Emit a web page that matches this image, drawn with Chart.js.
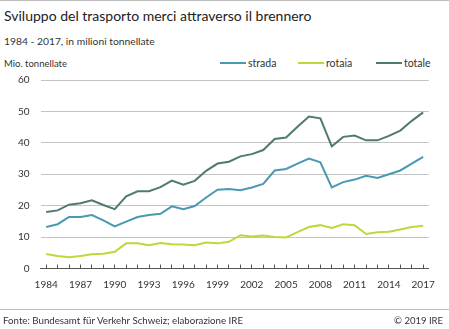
<!DOCTYPE html>
<html>
<head>
<meta charset="utf-8">
<script src="https://cdn.jsdelivr.net/npm/chart.js@4"></script>
<style>
  html, body { margin: 0; padding: 0; background: #fff; }
  body { width: 449px; height: 329px; position: relative; overflow: hidden;
         font-family: Lato, "Noto Sans", sans-serif; color: #333; }
  .rule { position: absolute; left: 0; width: 449px; height: 1px; background: #bdbdbd; }
  .txt { position: absolute; white-space: nowrap; line-height: 1; }
  #title { left: 4px; top: 9px; font-size: 14px; color: #222; }
  #sub { left: 4px; top: 36px; font-size: 10.3px; }
  #unit { left: 4px; top: 59px; font-size: 9.5px; }
  #foot { left: 3px; top: 316px; font-size: 9.7px; }
  #copy { right: 6px; top: 316px; font-size: 9.5px; }
  .leg { position: absolute; top: 58px; font-size: 10.5px; line-height: 1; white-space: nowrap; }
  .leg i { display: inline-block; width: 26px; height: 2px; vertical-align: middle; margin-right: 2px; position: relative; top: -1px; }
  #chartBox { position: absolute; left: 0; top: 0; width: 449px; height: 329px; }
</style>
</head>
<body>
<div class="rule" style="top:0"></div>
<div class="txt" id="title">Sviluppo del trasporto merci attraverso il brennero</div>
<div class="txt" id="sub">1984 - 2017, in milioni tonnellate</div>
<div class="txt" id="unit">Mio. tonnellate</div>
<div class="leg" style="left:220px"><i style="background:#4a98b2"></i>strada</div>
<div class="leg" style="left:298px"><i style="background:#c2d63a"></i>rotaia</div>
<div class="leg" style="left:376px"><i style="background:#4f7b6c"></i>totale</div>
<div id="chartBox"><canvas id="myChart"></canvas></div>
<div class="rule" style="top:309px"></div>
<div class="txt" id="foot">Fonte: Bundesamt für Verkehr Schweiz; elaborazione IRE</div>
<div class="txt" id="copy">© 2019 IRE</div>
<script>
// anni 1984-2017
const years = ['1984', '1985', '1986', '1987', '1988', '1989', '1990', '1991', '1992', '1993',
  '1994', '1995', '1996', '1997', '1998', '1999', '2000', '2001', '2002', '2003', '2004',
  '2005', '2006', '2007', '2008', '2009', '2010', '2011', '2012', '2013', '2014', '2015',
  '2016', '2017'];

// milioni di tonnellate
const strada = [13.2, 14.1, 16.4, 16.4, 17.0, 15.3, 13.4, 14.9, 16.4, 17.0, 17.4, 19.8, 18.9,
  19.9, 22.6, 25.1, 25.3, 24.9, 25.8, 26.9, 31.2, 31.7, 33.4, 35.0, 33.8, 25.8, 27.5, 28.3,
  29.5, 28.8, 30.0, 31.2, 33.4, 35.5];
const rotaia = [4.6, 4.0, 3.6, 4.0, 4.5, 4.7, 5.3, 8.0, 8.0, 7.4, 8.1, 7.7, 7.6, 7.4, 8.3, 8.0,
  8.5, 10.6, 10.2, 10.5, 10.0, 9.9, 11.6, 13.2, 13.8, 12.9, 14.1, 13.8, 11.0, 11.5, 11.7,
  12.4, 13.2, 13.6];
const totale = [18.0, 18.5, 20.3, 20.8, 21.7, 20.2, 18.9, 23.0, 24.6, 24.6, 25.9, 28.0, 26.7,
  27.9, 31.1, 33.4, 34.0, 35.7, 36.4, 37.7, 41.2, 41.7, 45.1, 48.4, 47.8, 38.9, 41.9, 42.3,
  40.8, 40.8, 42.2, 43.9, 47.0, 49.7];

// etichette asse x solo ogni 3 anni
const yearStep = 3;

function serie(label, values, color) {
  return {
    label,
    data: values,
    borderColor: color,
    backgroundColor: color,
    borderWidth: 2,
    pointRadius: 0,
    tension: 0,
  };
}

const config = {
  type: 'line',
  data: {
    labels: years,
    datasets: [
      serie('rotaia', rotaia, '#c2d63a'),
      serie('strada', strada, '#4a98b2'),
      serie('totale', totale, '#4f7b6c'),
    ],
  },
  options: {
    responsive: true,
    maintainAspectRatio: false,
    animation: false,
    layout: { padding: { top: 80, right: 16, left: 0, bottom: 0 } },
    plugins: { legend: { display: false }, tooltip: { enabled: false } },
    scales: {
      x: {
        offset: true,
        grid: {
          drawOnChartArea: false,
          tickLength: -4, // tacche verso l'alto
          color: '#555',
        },
        border: { color: '#555', width: 1 },
        ticks: {
          autoSkip: false,
          maxRotation: 0,
          padding: 14,
          color: '#333',
          font: { family: 'Lato', size: 10 },
          callback(v, i) { return i % yearStep === 0 ? years[i] : ''; },
        },
        afterFit(s) { s.height = 329 - 268.5; },
      },
      y: {
        min: 0,
        max: 60,
        ticks: {
          stepSize: 10,
          padding: 11,
          color: '#333',
          font: { family: 'Lato', size: 10 },
        },
        grid: { color: '#c4c4c4', drawTicks: false },
        border: { display: false },
        afterFit(s) { s.width = 40.5; },
      },
    },
  },
};

const myChart = new Chart(document.getElementById('myChart'), config);
</script>
</body>
</html>
